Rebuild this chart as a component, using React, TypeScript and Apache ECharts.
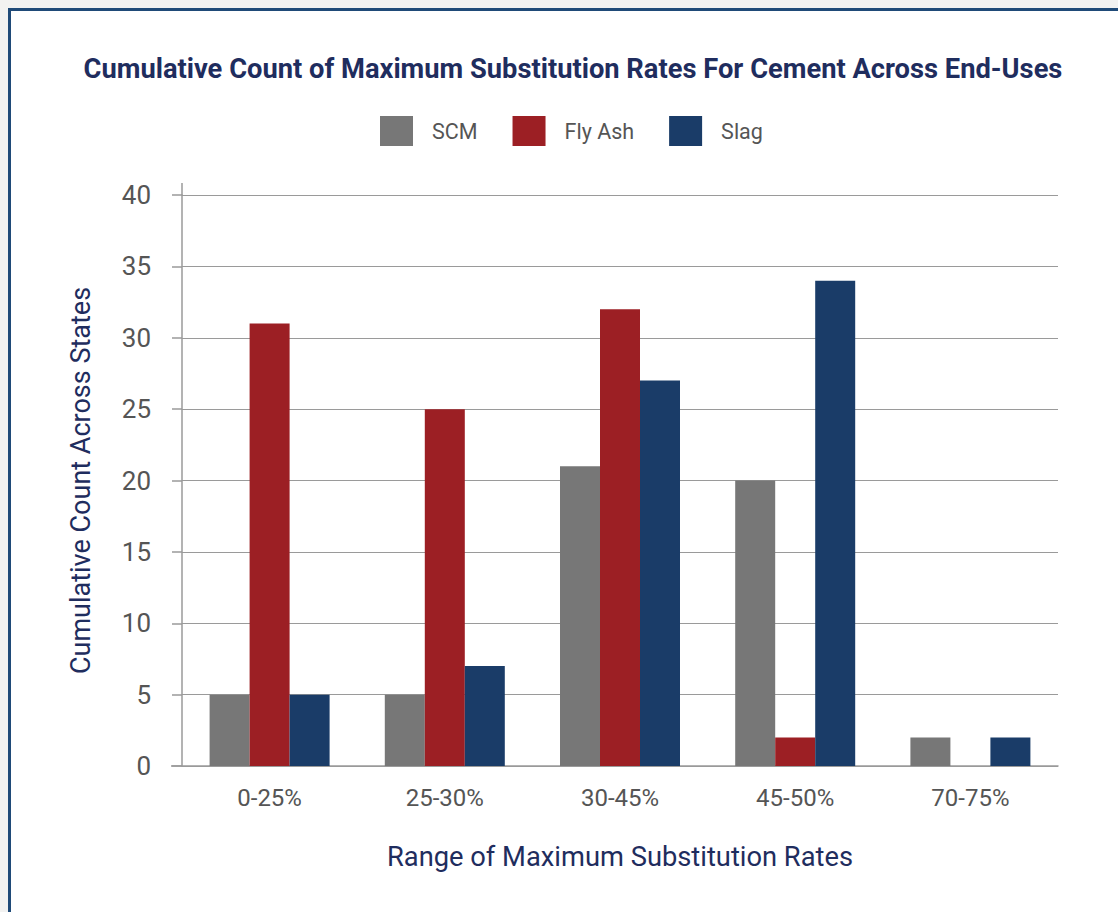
import React, { useEffect, useRef } from "react";
import * as echarts from "echarts";

const categories = ["0-25%", "25-30%", "30-45%", "45-50%", "70-75%"];
const scmValues = [5, 5, 21, 20, 2];
const flyAshValues = [31, 25, 32, 2, 0];
const slagValues = [5, 7, 27, 34, 2];
const seriesNames = ["SCM", "Fly Ash", "Slag"];
const colors = ["#777777", "#9c1f24", "#1a3c68"];

const NAVY = "#1f2d5e";
const GRAY_TEXT = "#555555";
const LINE = "#9a9a9a";

export default function App() {
  const ref = useRef<HTMLDivElement>(null);

  useEffect(() => {
    if (!ref.current) return;
    const chart = echarts.init(ref.current, undefined, { renderer: "svg" });
    const barStyle = { barWidth: 40 };
    chart.setOption({
      animation: false,
      textStyle: { fontFamily: "Roboto" },
      title: {
        text: "Cumulative Count of Maximum Substitution Rates For Cement Across End-Uses",
        left: 568,
        textAlign: "center",
        top: 50,
        textStyle: { fontFamily: "Roboto", fontWeight: "bold", fontSize: 27.3, color: NAVY },
      },
      legend: {
        top: 111,
        left: 375,
        itemWidth: 33,
        itemHeight: 30,
        itemGap: 35,
        icon: "rect",
        data: seriesNames,
        textStyle: { fontFamily: "Roboto", fontSize: 21.5, color: GRAY_TEXT, padding: [0, 0, 0, 14] },
      },
      grid: { left: 182, top: 195, width: 876, height: 571, containLabel: false },
      xAxis: {
        type: "category",
        data: categories,
        axisLine: { lineStyle: { color: LINE, width: 1.5 } },
        axisTick: { show: false },
        axisLabel: { fontFamily: "Roboto", fontSize: 24, color: GRAY_TEXT, margin: 20 },
        name: "Range of Maximum Substitution Rates",
        nameLocation: "middle",
        nameGap: 77,
        nameTextStyle: { fontFamily: "Roboto", fontSize: 27.3, color: NAVY },
      },
      yAxis: {
        type: "value",
        min: 0,
        max: 40,
        interval: 5,
        axisLine: { show: true, lineStyle: { color: LINE, width: 1.5 } },
        axisTick: { show: true, length: 10, lineStyle: { color: LINE, width: 1.5 } },
        splitLine: { lineStyle: { color: LINE, width: 1.2 } },
        axisLabel: { fontFamily: "Roboto", fontSize: 26, color: GRAY_TEXT, margin: 31 },
        name: "Cumulative Count Across States",
        nameLocation: "middle",
        nameGap: 88,
        nameTextStyle: { fontFamily: "Roboto", fontSize: 27, color: NAVY },
      },
      graphic: [
        {
          type: "line",
          shape: { x1: 182, y1: 183, x2: 182, y2: 195 },
          style: { stroke: LINE, lineWidth: 1.5 },
        },
        {
          type: "line",
          shape: { x1: 171, y1: 766, x2: 182, y2: 766 },
          style: { stroke: LINE, lineWidth: 1.5 },
        },
      ],
      series: [
        { name: seriesNames[0], type: "bar", data: scmValues, itemStyle: { color: colors[0] }, barGap: "0%", ...barStyle },
        { name: seriesNames[1], type: "bar", data: flyAshValues, itemStyle: { color: colors[1] }, barGap: "0%", ...barStyle },
        { name: seriesNames[2], type: "bar", data: slagValues, itemStyle: { color: colors[2] }, barGap: "0%", ...barStyle },
      ],
    });
    return () => chart.dispose();
  }, []);

  return (
    <div style={{ position: "fixed", left: 0, top: 0, width: 1118, height: 912, background: "#f2f2f1", overflow: "hidden" }}>
      <div
        style={{
          position: "absolute",
          left: 8,
          top: 8,
          width: 1140,
          height: 940,
          background: "#ffffff",
          border: "3px solid #1f4a78",
          boxSizing: "border-box",
        }}
      />
      <div ref={ref} style={{ position: "absolute", left: 0, top: 0, width: 1118, height: 912 }} />
    </div>
  );
}
